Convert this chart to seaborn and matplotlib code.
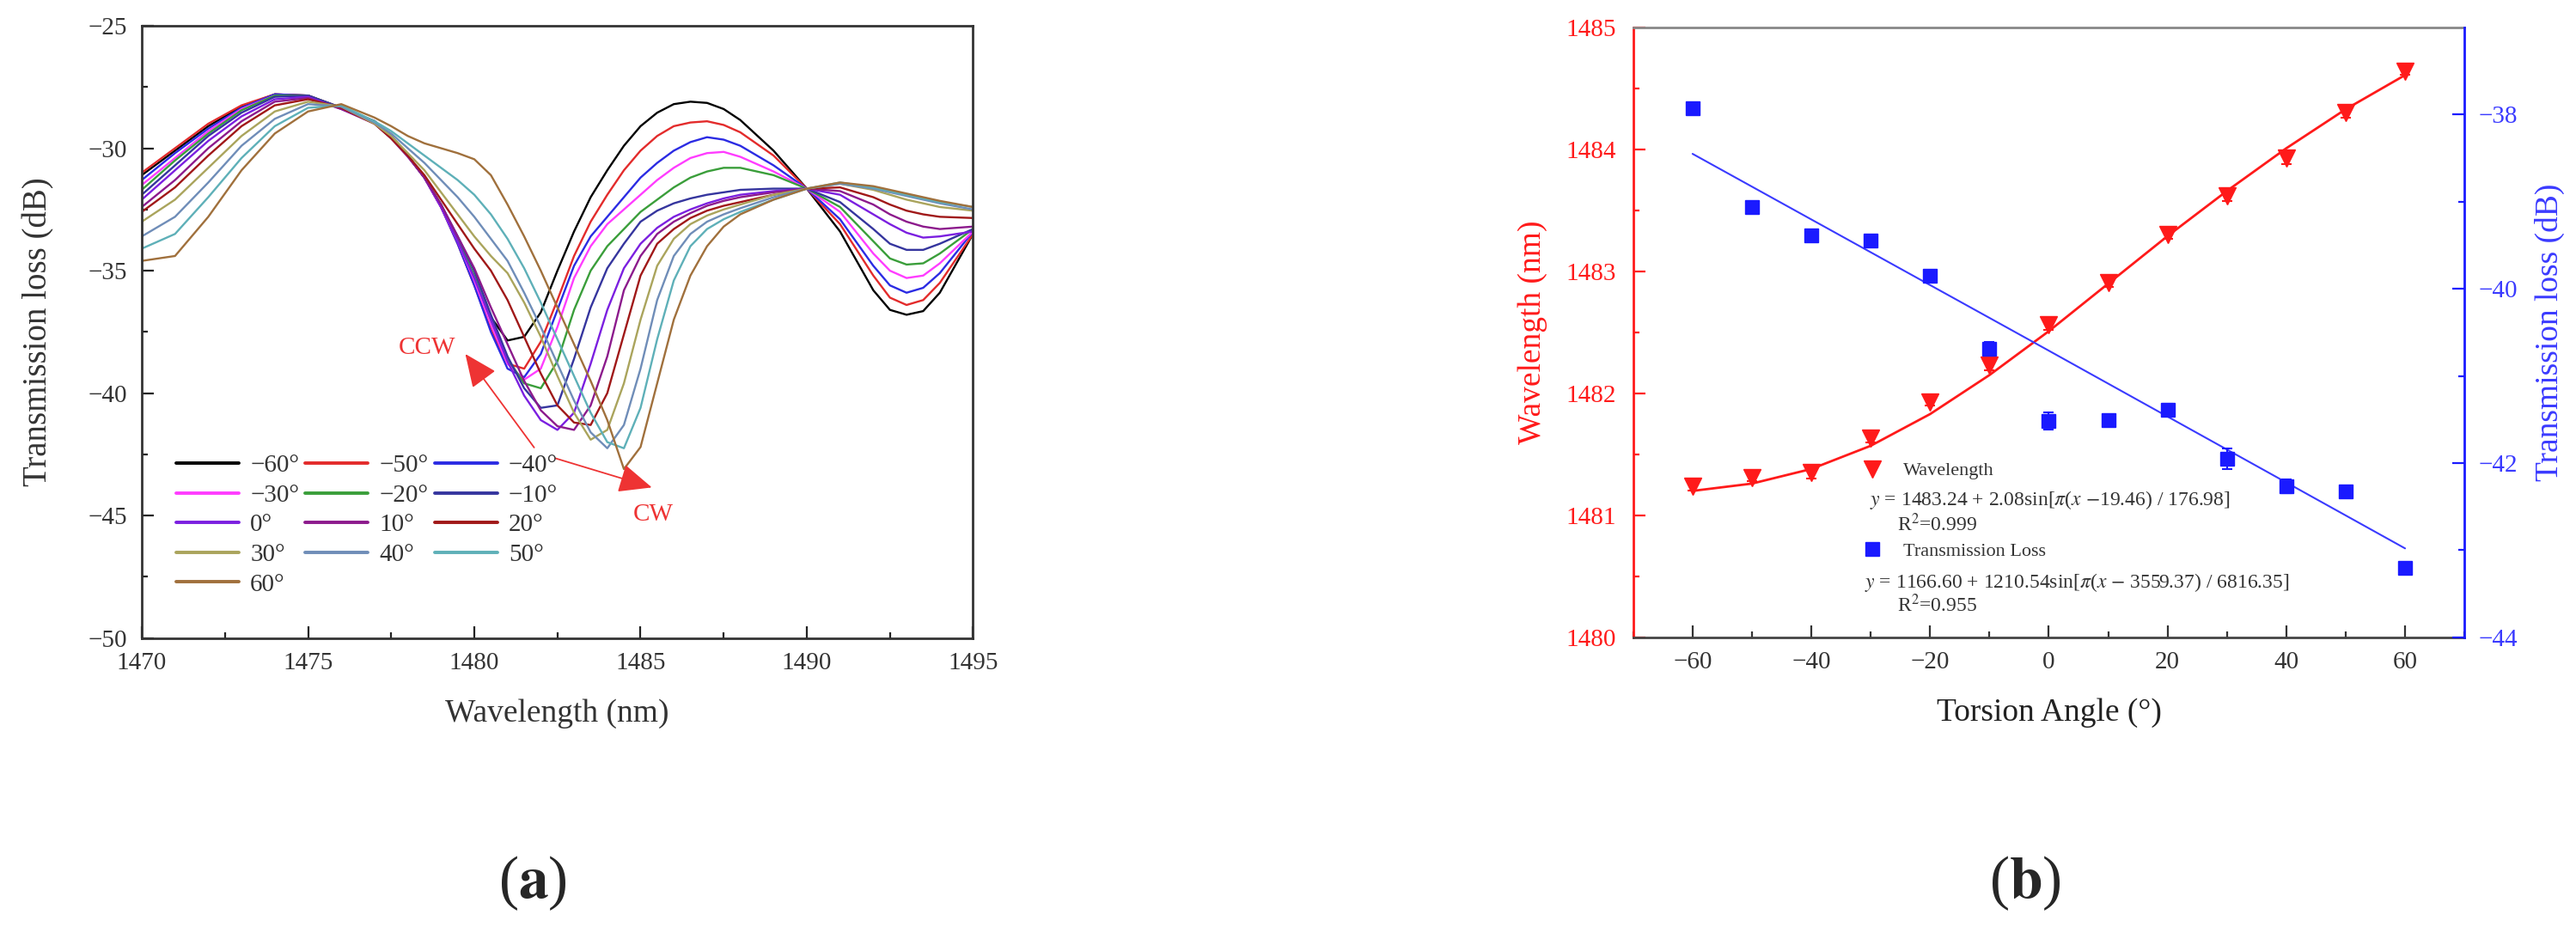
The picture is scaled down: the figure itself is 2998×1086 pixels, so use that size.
import numpy as np
import pandas as pd
import matplotlib
matplotlib.use("Agg")
import matplotlib.pyplot as plt
import seaborn as sns
from matplotlib.ticker import MultipleLocator, FixedLocator
from matplotlib.lines import Line2D

# ---------------- panel (a): transmission spectra ----------------
WAVELENGTH = [1470, 1471, 1472, 1473, 1474, 1475, 1476, 1477, 1477.5, 1478, 1478.5,
              1479, 1479.5, 1480, 1480.5, 1481, 1481.5, 1482, 1482.5, 1483, 1483.5,
              1484, 1484.5, 1485, 1485.5, 1486, 1486.5, 1487, 1487.5, 1488, 1489,
              1490, 1491, 1492, 1492.5, 1493, 1493.5, 1494, 1495]

ANGLE_LABELS = ["\u221260\u00b0", "\u221250\u00b0", "\u221240\u00b0", "\u221230\u00b0",
                "\u221220\u00b0", "\u221210\u00b0", "0\u00b0", "10\u00b0", "20\u00b0",
                "30\u00b0", "40\u00b0", "50\u00b0", "60\u00b0"]

T_M60 = [-31.1, -30.1, -29.1, -28.3, -27.8, -27.85, -28.35, -28.9, -29.5, -30.3, -31.2,
         -32.4, -33.8, -35.4, -36.9, -37.85, -37.7, -36.7, -35.0, -33.4, -32.0,
         -30.9, -29.9, -29.1, -28.55, -28.2, -28.1, -28.15, -28.4, -28.85, -30.1,
         -31.65, -33.4, -35.8, -36.6, -36.8, -36.65, -35.9, -33.5]
T_M50 = [-31.0, -30.0, -29.0, -28.25, -27.8, -27.85, -28.35, -28.9, -29.5, -30.3, -31.2,
         -32.4, -33.9, -35.6, -37.4, -38.8, -39.0, -37.9, -36.2, -34.4, -33.0,
         -31.9, -30.9, -30.1, -29.5, -29.1, -28.95, -28.9, -29.05, -29.35, -30.3,
         -31.65, -33.1, -35.2, -36.1, -36.4, -36.2, -35.5, -33.5]
T_M40 = [-31.3, -30.2, -29.2, -28.35, -27.8, -27.85, -28.35, -28.9, -29.5, -30.3, -31.2,
         -32.4, -33.9, -35.6, -37.5, -39.0, -39.35, -38.4, -36.6, -34.8, -33.6,
         -32.8, -32.0, -31.2, -30.6, -30.1, -29.75, -29.55, -29.65, -29.9, -30.7,
         -31.65, -32.9, -34.8, -35.6, -35.9, -35.7, -35.1, -33.4]
T_M30 = [-31.5, -30.4, -29.3, -28.4, -27.85, -27.85, -28.35, -28.9, -29.5, -30.3, -31.2,
         -32.4, -33.8, -35.4, -37.2, -38.8, -39.45, -39.0, -37.3, -35.3, -34.0,
         -33.1, -32.5, -31.9, -31.3, -30.8, -30.4, -30.2, -30.15, -30.35, -30.95,
         -31.65, -32.6, -34.3, -35.0, -35.3, -35.2, -34.7, -33.4]
T_M20 = [-31.7, -30.5, -29.4, -28.45, -27.85, -27.85, -28.35, -28.9, -29.5, -30.3, -31.2,
         -32.3, -33.7, -35.2, -37.0, -38.6, -39.6, -39.8, -38.7, -36.6, -35.0,
         -34.0, -33.3, -32.6, -32.1, -31.6, -31.2, -30.95, -30.8, -30.8, -31.1,
         -31.65, -32.4, -33.8, -34.5, -34.75, -34.7, -34.3, -33.3]
T_M10 = [-31.9, -30.7, -29.5, -28.55, -27.9, -27.85, -28.35, -28.9, -29.5, -30.3, -31.2,
         -32.3, -33.6, -35.0, -36.8, -38.5, -39.8, -40.6, -40.5, -38.6, -36.5,
         -34.9, -33.9, -33.0, -32.55, -32.25, -32.05, -31.9, -31.8, -31.7, -31.65,
         -31.65, -32.2, -33.3, -33.9, -34.15, -34.15, -33.9, -33.3]
T_P00 = [-32.1, -30.9, -29.7, -28.7, -28.0, -27.9, -28.4, -28.95, -29.55, -30.3, -31.2,
         -32.4, -33.8, -35.3, -37.0, -38.7, -40.1, -41.1, -41.5, -40.8, -38.8,
         -36.6, -34.9, -33.9, -33.25, -32.8, -32.5, -32.25, -32.05, -31.9, -31.75,
         -31.65, -31.9, -32.7, -33.1, -33.45, -33.65, -33.6, -33.4]
T_P10 = [-32.4, -31.3, -30.0, -28.9, -28.1, -27.95, -28.4, -29.0, -29.6, -30.35, -31.2,
         -32.3, -33.6, -34.9, -36.5, -38.0, -39.5, -40.7, -41.35, -41.5, -40.5,
         -38.5, -35.8, -34.4, -33.5, -33.0, -32.65, -32.35, -32.15, -32.0, -31.8,
         -31.65, -31.75, -32.3, -32.7, -33.0, -33.2, -33.3, -33.2]
T_P20 = [-32.6, -31.6, -30.3, -29.1, -28.25, -28.0, -28.35, -29.0, -29.6, -30.3, -31.1,
         -32.1, -33.1, -34.1, -35.0, -36.2, -37.7, -39.2, -40.5, -41.2, -41.3,
         -40.0, -37.6, -35.2, -33.9, -33.3, -32.85, -32.55, -32.35, -32.2, -31.9,
         -31.65, -31.6, -32.0, -32.3, -32.55, -32.7, -32.8, -32.85]
T_P30 = [-33.0, -32.1, -30.8, -29.5, -28.5, -28.1, -28.3, -29.0, -29.5, -30.2, -30.9,
         -31.8, -32.7, -33.6, -34.4, -35.1, -36.3, -37.7, -39.3, -40.8, -41.9,
         -41.5, -39.6, -37.0, -34.8, -33.7, -33.1, -32.75, -32.5, -32.3, -31.9,
         -31.65, -31.45, -31.7, -31.9, -32.1, -32.25, -32.4, -32.55]
T_P40 = [-33.6, -32.8, -31.4, -29.9, -28.8, -28.2, -28.3, -28.95, -29.4, -30.0, -30.6,
         -31.3, -32.0, -32.8, -33.7, -34.6, -35.9, -37.3, -38.8, -40.3, -41.6,
         -42.25, -41.3, -39.0, -36.2, -34.4, -33.5, -33.0, -32.7, -32.45, -32.0,
         -31.65, -31.45, -31.65, -31.8, -31.95, -32.1, -32.25, -32.5]
T_P50 = [-34.1, -33.5, -32.0, -30.4, -29.1, -28.35, -28.25, -28.9, -29.3, -29.8, -30.3,
         -30.8, -31.3, -31.9, -32.7, -33.7, -34.9, -36.3, -37.8, -39.3, -40.8,
         -42.0, -42.25, -40.6, -37.8, -35.4, -34.0, -33.3, -32.9, -32.6, -32.1,
         -31.65, -31.4, -31.6, -31.75, -31.9, -32.05, -32.2, -32.4]
T_P60 = [-34.6, -34.4, -32.8, -30.9, -29.4, -28.5, -28.2, -28.75, -29.1, -29.5, -29.8,
         -30.0, -30.2, -30.45, -31.1, -32.3, -33.6, -35.0, -36.5, -38.0, -39.5,
         -41.1, -43.1, -42.2, -39.6, -37.0, -35.2, -34.0, -33.2, -32.7, -32.1,
         -31.65, -31.4, -31.55, -31.7, -31.85, -32.0, -32.15, -32.4]

SPECTRA = [T_M60, T_M50, T_M40, T_M30, T_M20, T_M10, T_P00,
           T_P10, T_P20, T_P30, T_P40, T_P50, T_P60]

COLORS = ["#000000", "#e32b2b", "#2b2be3", "#ff3cff", "#3a9e3a", "#35359e", "#7b1fe0",
          "#8c1a8c", "#a01818", "#aaa45c", "#6f8db8", "#5eb0b8", "#a0703c"]

# ---------------- panel (b): dip wavelength / loss vs torsion ----------------
TORSION = [-60, -50, -40, -30, -20, -10, 0, 10, 20, 30, 40, 50, 60]
DIP_WL = [1481.24, 1481.31, 1481.35, 1481.63, 1481.93, 1482.23, 1482.56,
          1482.91, 1483.30, 1483.62, 1483.93, 1484.30, 1484.64]
DIP_WL_ERR = [0.04, 0.03, 0.05, 0.03, 0.03, 0.04, 0.04, 0.04, 0.03, 0.04, 0.05, 0.04, 0.03]
WL_FIT = [1481.20, 1481.26, 1481.38, 1481.57, 1481.83, 1482.15, 1482.51,
          1482.90, 1483.29, 1483.66, 1484.01, 1484.33, 1484.61]
DIP_TL = [-37.93, -39.06, -39.39, -39.45, -39.85, -40.69, -41.52,
          -41.51, -41.39, -41.95, -42.27, -42.33, -43.20]
DIP_TL_ERR = [0.06, 0.06, 0.06, 0.05, 0.06, 0.08, 0.10, 0.06, 0.07, 0.12, 0.08, 0.06, 0.05]
TL_FIT_X = [-60, 0, 60]
TL_FIT = [-38.45, -40.71, -42.98]

FORMULA_WL = r"$y$ = 1483.24 + 2.08sin[$\pi$($x$ $-$19.46) / 176.98]"
FORMULA_TL = r"$y$ = 1166.60 + 1210.54sin[$\pi$($x$ $-$ 3559.37) / 6816.35]"

# ---------------- styling ----------------
sns.set_theme(style="ticks")
plt.rcParams["font.family"] = ["Liberation Serif", "DejaVu Serif"]
plt.rcParams["mathtext.fontset"] = "stix"
plt.rcParams["axes.unicode_minus"] = True

fig = plt.figure(figsize=(29.98, 10.86), dpi=100)
fig.patch.set_facecolor("white")
axA = fig.add_axes([0.05504, 0.3161, 0.3227, 0.6563])
axB = fig.add_axes([0.6340, 0.3170, 0.3227, 0.6535])

# ---- panel (a)
rows = []
for lab, vals in zip(ANGLE_LABELS, SPECTRA):
    for w, v in zip(WAVELENGTH, vals):
        rows.append((w, v, lab))
df = pd.DataFrame(rows, columns=["wl", "tl", "angle"])
palette = dict(zip(ANGLE_LABELS, COLORS))
sns.lineplot(data=df, x="wl", y="tl", hue="angle", hue_order=ANGLE_LABELS,
             palette=palette, estimator=None, sort=False, lw=1.7, ax=axA, legend=False)

axA.set_facecolor("white")
axA.set_xlim(1470, 1495)
axA.set_ylim(-50, -25)
axA.xaxis.set_major_locator(MultipleLocator(5))
axA.xaxis.set_minor_locator(MultipleLocator(2.5))
axA.yaxis.set_major_locator(MultipleLocator(5))
axA.yaxis.set_minor_locator(MultipleLocator(2.5))
axA.tick_params(which="both", direction="in", width=1.6, color="#222222",
                labelsize=21, labelcolor="#333333", pad=12, top=False, right=False)
axA.tick_params(which="major", length=10)
axA.tick_params(which="minor", length=5)
for sp in axA.spines.values():
    sp.set_linewidth(2.0)
    sp.set_color("#333333")
axA.set_xlabel("Wavelength (nm)", fontsize=27, color="#333333", labelpad=20)
axA.set_ylabel("Transmission loss (dB)", fontsize=28, color="#333333", labelpad=28)

lines = axA.get_lines()[:13]
order = [0, 3, 6, 9, 12, 1, 4, 7, 10, 2, 5, 8, 11]
legA = axA.legend([lines[i] for i in order], [ANGLE_LABELS[i] for i in order],
                  ncol=3, loc="upper left", bbox_to_anchor=(0.0414, 0.300),
                  frameon=False, fontsize=21, handlelength=2.5, handletextpad=0.45,
                  columnspacing=0.25, labelspacing=0.28, borderpad=0, borderaxespad=0)
for t in legA.get_texts():
    t.set_color("#333333")
for l in legA.get_lines():
    l.set_linewidth(2.8)

arrow_red = "#ee3333"
axA.annotate("", xy=(1479.73, -38.4), xytext=(1481.8, -42.22),
             arrowprops=dict(arrowstyle="-|>,head_length=0.8,head_width=0.35",
                             color=arrow_red, lw=1.3, mutation_scale=30,
                             shrinkA=0, shrinkB=0))
axA.annotate("", xy=(1485.34, -43.85), xytext=(1482.44, -42.66),
             arrowprops=dict(arrowstyle="-|>,head_length=0.8,head_width=0.35",
                             color=arrow_red, lw=1.3, mutation_scale=30,
                             shrinkA=0, shrinkB=0))
axA.text(1478.58, -38.15, "CCW", color=arrow_red, fontsize=21, ha="center", va="center")
axA.text(1485.39, -44.97, "CW", color=arrow_red, fontsize=21, ha="center", va="center")

# ---- panel (b)
red = "#ff1a1a"
blue = "#1a1aff"
axB.errorbar(TORSION, DIP_WL, yerr=DIP_WL_ERR, fmt="v", color=red, ms=15,
             capsize=4, elinewidth=1.5, capthick=1.5, zorder=3)
sns.lineplot(x=TORSION, y=WL_FIT, color=red, lw=2.0, ax=axB, zorder=2)
axB2 = axB.twinx()
axB2.errorbar(TORSION, DIP_TL, yerr=DIP_TL_ERR, fmt="s", color=blue, ms=12,
              capsize=4, elinewidth=1.5, capthick=1.5, zorder=3)
sns.lineplot(x=TL_FIT_X, y=TL_FIT, color="#3a3aff", lw=1.5, ax=axB2, zorder=2)

axB.set_xlim(-70, 70)
axB.set_ylim(1480, 1485)
axB2.set_ylim(-44, -37)
axB.xaxis.set_major_locator(FixedLocator([-60, -40, -20, 0, 20, 40, 60]))
axB.xaxis.set_minor_locator(MultipleLocator(10))
axB.yaxis.set_major_locator(MultipleLocator(1))
axB.yaxis.set_minor_locator(MultipleLocator(0.5))
axB2.yaxis.set_major_locator(FixedLocator([-44, -42, -40, -38]))
axB2.yaxis.set_minor_locator(FixedLocator([-43, -41, -39]))
axB.yaxis.set_major_formatter(matplotlib.ticker.FormatStrFormatter("%d"))

axB.tick_params(axis="x", which="both", direction="in", width=1.6, color="#333333",
                labelsize=21, labelcolor="#333333", pad=12, top=False)
axB.tick_params(axis="y", which="both", direction="in", width=1.6, color=red,
                labelsize=21, labelcolor=red, pad=14, right=False)
axB2.tick_params(axis="y", which="both", direction="in", width=1.6, color=blue,
                 labelsize=21, labelcolor="#3a3aff", pad=12, left=False)
for a in (axB, axB2):
    a.tick_params(which="major", length=10)
    a.tick_params(which="minor", length=5)

for name, sp in axB.spines.items():
    sp.set_linewidth(2.0)
axB.spines["left"].set_color(red)
axB.spines["bottom"].set_color("#444444")
axB.spines["top"].set_color("#888888")
axB.spines["right"].set_visible(False)
for name in ("left", "top", "bottom"):
    axB2.spines[name].set_visible(False)
axB2.spines["right"].set_color(blue)
axB2.spines["right"].set_linewidth(2.0)

axB.set_xlabel("Torsion Angle (\u00b0)", fontsize=27, color="#222222", labelpad=20)
axB.set_ylabel("Wavelength (nm)", fontsize=27, color=red, labelpad=16)
axB2.set_ylabel("Transmission loss (dB)", fontsize=27, color="#3a3aff", labelpad=14)

h_wl = Line2D([], [], marker="v", color=red, ls="none", ms=15)
h_tl = Line2D([], [], marker="s", color=blue, ls="none", ms=12)
leg1 = axB2.legend([h_wl], ["Wavelength"], loc="center left",
                   bbox_to_anchor=(0.2763, 0.2729), frameon=False, fontsize=16,
                   handlelength=1, handletextpad=1.1, borderpad=0, borderaxespad=0)
axB2.add_artist(leg1)
leg2 = axB2.legend([h_tl], ["Transmission Loss"], loc="center left",
                   bbox_to_anchor=(0.2763, 0.1409), frameon=False, fontsize=16,
                   handlelength=1, handletextpad=1.1, borderpad=0, borderaxespad=0)
for lg in (leg1, leg2):
    for t in lg.get_texts():
        t.set_color("#333333")

txt_kw = dict(transform=axB2.transAxes, va="center", ha="left", fontsize=17, color="#333333")
axB2.text(0.2846, 0.2254, FORMULA_WL, **txt_kw)
axB2.text(0.3177, 0.1856, r"R$^2$=0.999", **txt_kw)
axB2.text(0.2784, 0.0898, FORMULA_TL, **txt_kw)
axB2.text(0.3177, 0.0530, r"R$^2$=0.955", **txt_kw)

fig.text(0.2068, 0.0534, r"($\mathbf{a}$)", ha="center", va="center", fontsize=50)
fig.text(0.7862, 0.0534, r"($\mathbf{b}$)", ha="center", va="center", fontsize=50)

fig.savefig("out.png", dpi=100, facecolor="white")
